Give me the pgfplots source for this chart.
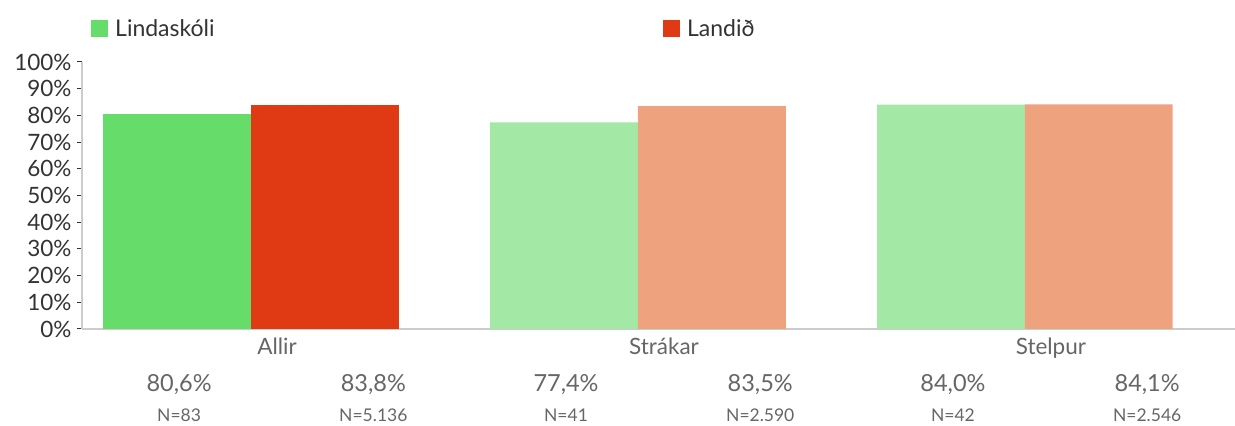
\documentclass[border=0pt]{standalone}
\usepackage{pgfplots}
\pgfplotsset{compat=1.18}
\usepackage{fontspec}
\setmainfont{Lato}
\definecolor{gA}{HTML}{66DD6A}
\definecolor{rA}{HTML}{E03A14}
\definecolor{gL}{HTML}{A3E9A5}
\definecolor{rL}{HTML}{EFA27E}
\definecolor{axg}{HTML}{CCCCCC}
\definecolor{txt}{HTML}{333333}
\definecolor{lbl}{HTML}{666666}
\newcommand{\fs}{\fontsize{22.5bp}{26bp}\selectfont}
\newcommand{\fl}{\fontsize{23bp}{27bp}\selectfont}
\newcommand{\fv}{\fontsize{23.5bp}{28bp}\selectfont}
\newcommand{\fn}{\fontsize{17.5bp}{21bp}\selectfont}
\begin{document}
\begin{tikzpicture}
\begin{axis}[name=ax,
  scale only axis, width=1153bp, height=267bp,
  xmin=-0.437, xmax=2.543, ymin=0, ymax=100,
  ybar, bar width=0.382, bar shift=0pt,
  axis x line=bottom, axis y line=left,
  axis line style={axg, line width=2bp, -},
  /pgf/number format/assume math mode=true,
  ytick={0,10,...,100},
  yticklabel={\pgfmathprintnumber{\tick}\%},
  y tick style={txt, line width=1bp},
  major tick length=5bp, tick align=outside,
  xtick={0,1,2}, xticklabels={Allir,Strákar,Stelpur},
  x tick style={draw=none},
  xticklabel style={xshift=26bp, text=lbl, font=\fs},
  yticklabel style={text=txt, font=\fs, xshift=-2bp},
  clip=false,
  legend columns=2,
  legend style={at={(rel axis cs:0,1)}, anchor=west, xshift=6bp, yshift=33.5bp,
    draw=none, fill=none, font=\fl, text=txt,
    cells={anchor=west},
    /tikz/every odd column/.append style={column sep=5bp}},
]
\addplot[fill=gA, draw=none, legend image code/.code={\fill[gA] (0bp,-8.5bp) rectangle (17bp,8.5bp);}] coordinates {(-0.191,80.6)};
\addlegendentry{\makebox[546bp][l]{Lindaskóli}}
\addplot[fill=rA, draw=none, legend image code/.code={\fill[rA] (0bp,-8.5bp) rectangle (17bp,8.5bp);}] coordinates {(0.191,83.8)};
\addlegendentry{Landið}
\addplot[fill=gL, draw=none, forget plot] coordinates {(0.809,77.4) (1.809,84.0)};
\addplot[fill=rL, draw=none, forget plot] coordinates {(1.191,83.5) (2.191,84.1)};
% value labels
\node[anchor=base, text=lbl, font=\fv] at ([yshift=-63bp]axis cs:-0.186,0) {80,6\%};
\node[anchor=base, text=lbl, font=\fv] at ([yshift=-63bp]axis cs:0.316,0) {83,8\%};
\node[anchor=base, text=lbl, font=\fv] at ([yshift=-63bp]axis cs:0.814,0) {77,4\%};
\node[anchor=base, text=lbl, font=\fv] at ([yshift=-63bp]axis cs:1.316,0) {83,5\%};
\node[anchor=base, text=lbl, font=\fv] at ([yshift=-63bp]axis cs:1.814,0) {84,0\%};
\node[anchor=base, text=lbl, font=\fv] at ([yshift=-63bp]axis cs:2.316,0) {84,1\%};
\node[anchor=base, text=lbl, font=\fn] at ([yshift=-93bp]axis cs:-0.186,0) {N=83};
\node[anchor=base, text=lbl, font=\fn] at ([yshift=-93bp]axis cs:0.316,0) {N=5.136};
\node[anchor=base, text=lbl, font=\fn] at ([yshift=-93bp]axis cs:0.814,0) {N=41};
\node[anchor=base, text=lbl, font=\fn] at ([yshift=-93bp]axis cs:1.316,0) {N=2.590};
\node[anchor=base, text=lbl, font=\fn] at ([yshift=-93bp]axis cs:1.814,0) {N=42};
\node[anchor=base, text=lbl, font=\fn] at ([yshift=-93bp]axis cs:2.316,0) {N=2.546};
\end{axis}
\pgfresetboundingbox
\path ([xshift=-82bp,yshift=-97bp]ax.south west) rectangle ([yshift=62bp]ax.north east);
\end{tikzpicture}
\end{document}
